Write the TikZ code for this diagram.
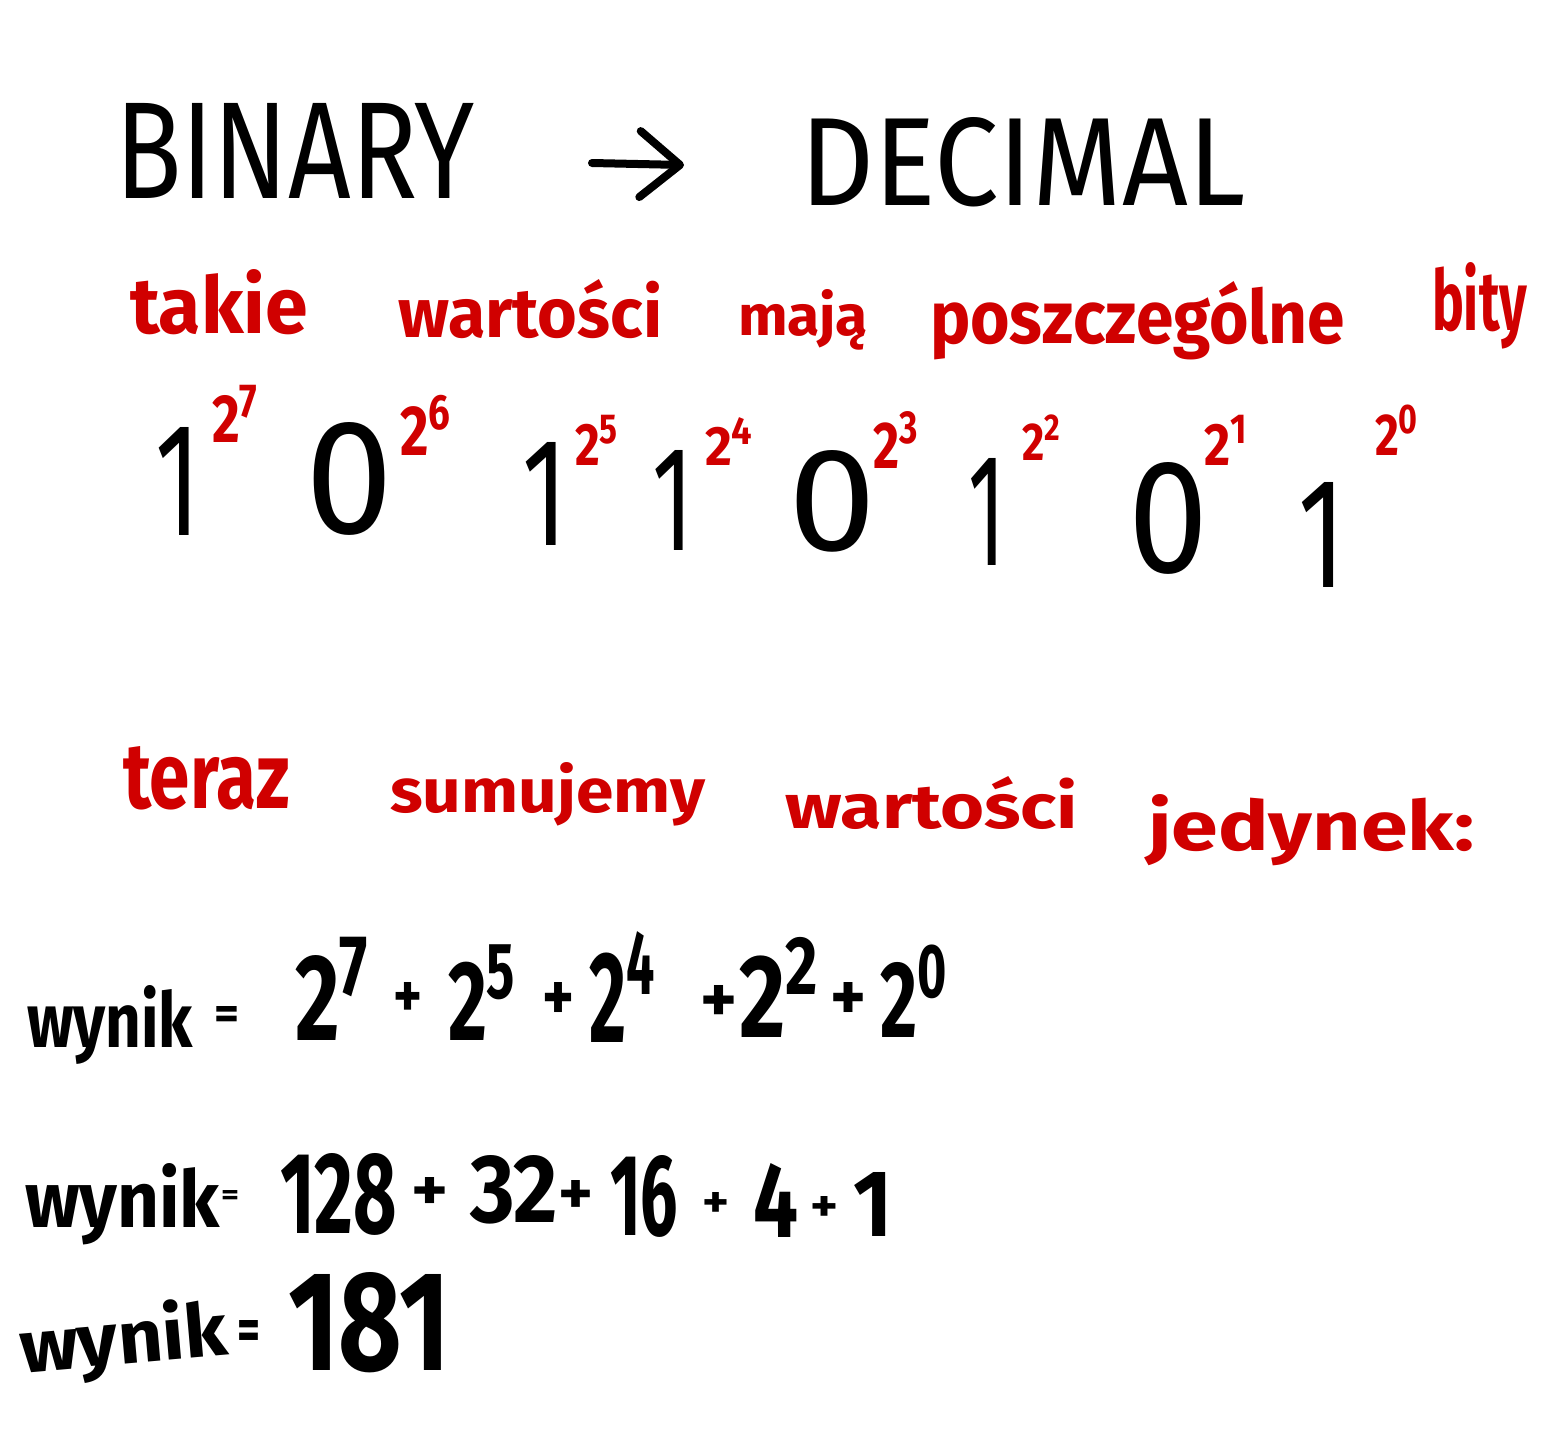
\documentclass[tikz,border=0pt]{standalone}
\usepackage{fontspec}
\setmainfont{Fira Sans}
\usepackage{graphicx}
\usetikzlibrary{arrows.meta}
\definecolor{redpen}{RGB}{208,0,0}
\newcommand{\fitbox}[3]{\resizebox{#1pt}{#2pt}{#3}}
\newcommand{\pw}[2]{#1\textsuperscript{#2}}
\tikzset{
  word/.style={anchor=base west, inner sep=0pt, outer sep=0pt},
  redword/.style={word, text=redpen, font=\bfseries},
  blackword/.style={word, text=black, font=\bfseries},
  titleword/.style={word, text=black},
  bitdigit/.style={word, text=black},
  power/.style={word, text=redpen, font=\bfseries},
  opsign/.style={anchor=center, inner sep=0pt, outer sep=0pt, text=black, font=\bfseries},
}
\begin{document}
\begin{tikzpicture}[x=1pt,y=-1pt]
\useasboundingbox (0,0) rectangle (1554,1438);
\fill[white] (0,0) rectangle (1554,1438);

% title
\node[titleword] (binary) at (115,198) {\fitbox{360}{95}{BINARY}};
\node[titleword] (decimal) at (800,205) {\fitbox{445}{88}{DECIMAL}};
\coordinate (arrS) at (592,163);
\coordinate (arrE) at (684,165);
\draw[line width=8pt, line cap=round,
  -{Straight Barb[length=40pt,width=66pt,line width=8pt,round]}] (arrS) -- (arrE);

% first red line
\node[redword] (takie) at (130,333) {\fitbox{178}{64}{takie}};
\node[redword] (wart1) at (398,337) {\fitbox{264}{58}{wartości}};
\node[redword] (maja) at (738,335) {\fitbox{130}{46}{mają}};
\node[redword] (poszcz) at (930,343) {\fitbox{415}{62}{poszczególne}};
\node[redword] (bity) at (1432,330) {\fitbox{95}{68}{bity}};

% bits
\node[bitdigit] (d7) at (155,535) {\fitbox{45}{108}{1}};
\node[bitdigit] (d6) at (305,533) {\fitbox{88}{111}{0}};
\node[bitdigit] (d5) at (522,545) {\fitbox{45}{103}{1}};
\node[bitdigit] (d4) at (652,550) {\fitbox{41}{100}{1}};
\node[bitdigit] (d3) at (788,550) {\fitbox{88}{100}{0}};
\node[bitdigit] (d2) at (968,565) {\fitbox{37}{107}{1}};
\node[bitdigit] (d1) at (1128,572) {\fitbox{80}{110}{0}};
\node[bitdigit] (d0) at (1298,587) {\fitbox{47}{105}{1}};

% weights
\node[power] (p7) at (212,442) {\fitbox{48}{57}{\pw{2}{7}}};
\node[power] (p6) at (400,455) {\fitbox{53}{60}{\pw{2}{6}}};
\node[power] (p5) at (575,465) {\fitbox{45}{50}{\pw{2}{5}}};
\node[power] (p4) at (705,465) {\fitbox{50}{47}{\pw{2}{4}}};
\node[power] (p3) at (873,468) {\fitbox{47}{56}{\pw{2}{3}}};
\node[power] (p2) at (1022,460) {\fitbox{40}{45}{\pw{2}{2}}};
\node[power] (p1) at (1204,465) {\fitbox{45}{50}{\pw{2}{1}}};
\node[power] (p0) at (1375,455) {\fitbox{45}{50}{\pw{2}{0}}};

% second red line
\node[redword] (teraz) at (123,808) {\fitbox{167}{62}{teraz}};
\node[redword] (sumujemy) at (390,812) {\fitbox{315}{50}{sumujemy}};
\node[redword] (wart2) at (785,828) {\fitbox{293}{52}{wartości}};
\node[redword] (jedynek) at (1148,850) {\fitbox{327}{56}{jedynek:}};

% wynik line 1
\node[blackword] (w1) at (27,1047) {\fitbox{166}{62}{wynik}};
\node[opsign] (eq1) at (227,1018) {\fitbox{25}{23}{=}};
\node[blackword] (a1) at (295,1040) {\fitbox{77}{103}{\pw{2}{7}}};
\node[opsign] (s1) at (408,1000) {\fitbox{29}{35}{+}};
\node[blackword] (a2) at (448,1040) {\fitbox{71}{95}{\pw{2}{5}}};
\node[opsign] (s2) at (558,1001) {\fitbox{32}{38}{+}};
\node[blackword] (a3) at (589,1042) {\fitbox{69}{110}{\pw{2}{4}}};
\node[opsign] (s3) at (719,1004) {\fitbox{37}{37}{+}};
\node[blackword] (a4) at (739,1037) {\fitbox{83}{100}{\pw{2}{2}}};
\node[opsign] (s4) at (848,1001) {\fitbox{36}{38}{+}};
\node[blackword] (a5) at (880,1037) {\fitbox{70}{92}{\pw{2}{0}}};

% wynik line 2
\node[blackword] (w2) at (25,1227) {\fitbox{195}{64}{wynik}};
\node[opsign] (eq2) at (230,1197) {\fitbox{18}{14}{=}};
\node[blackword] (b1) at (280,1233) {\fitbox{117}{80}{128}};
\node[opsign] (t1) at (430,1194) {\fitbox{37}{33}{+}};
\node[blackword] (b2) at (470,1222) {\fitbox{88}{67}{32}};
\node[opsign] (t2) at (576,1197) {\fitbox{35}{34}{+}};
\node[blackword] (b3) at (610,1235) {\fitbox{68}{80}{16}};
\node[opsign] (t3) at (716,1205) {\fitbox{27}{25}{+}};
\node[blackword] (b4) at (753,1237) {\fitbox{45}{74}{4}};
\node[opsign] (t4) at (824,1209) {\fitbox{28}{25}{+}};
\node[blackword] (b5) at (853,1236) {\fitbox{39}{64}{1}};

% wynik line 3
\node[blackword, rotate=5] (w3) at (22,1373) {\fitbox{208}{60}{wynik}};
\node[opsign] (eq3) at (249,1335) {\fitbox{23}{30}{=}};
\node[blackword] (res) at (288,1370) {\fitbox{162}{98}{181}};
\end{tikzpicture}
\end{document}
